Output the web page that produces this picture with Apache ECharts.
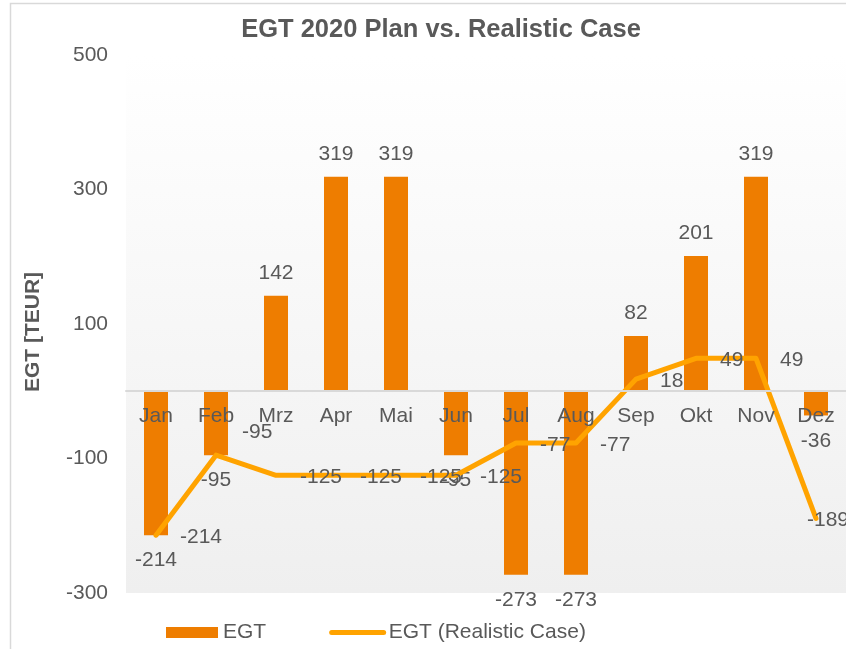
<!DOCTYPE html>
<html>
<head>
<meta charset="utf-8">
<script src="https://cdn.jsdelivr.net/npm/echarts@6/dist/echarts.min.js"></script>
<style>
  html, body { margin: 0; padding: 0; background: #fff; }
  #chart { width: 846px; height: 649px; }
</style>
</head>
<body>
<div id="chart"></div>
<script>
const months = ["Jan", "Feb", "Mrz", "Apr", "Mai", "Jun", "Jul", "Aug", "Sep", "Okt", "Nov", "Dez"];
const egtPlan = [-214, -95, 142, 319, 319, -95, -273, -273, 82, 201, 319, -36];
const egtRealistic = [-214, -95, -125, -125, -125, -125, -77, -77, 18, 49, 49, -189];
const yTicks = { min: -300, max: 500, interval: 200 };

const textColor = "#595959";
const font = "Liberation Sans, Arial, sans-serif";
const fs = 21;

let chart = echarts.init(document.getElementById("chart"));

// bar labels: above positive bars, below negative ones
const barData = egtPlan.map((v) => ({
  value: v,
  label: v >= 0 ? { position: "top", distance: 12 } : { position: "bottom", distance: 15 },
}));

// line labels sit to the right; Feb is nudged up and Dez pulled back in, like Excel did
const lineData = egtRealistic.map((v, i) => {
  if (i === 1) {
    return { value: v, label: { offset: [2, -23] } };
  }
  if (i === months.length - 1) {
    return { value: v, label: { offset: [-33, 2] } };
  }
  return v;
});

let option = {
  animation: false,
  backgroundColor: "#fff",
  textStyle: { fontFamily: font },
  title: {
    text: "EGT 2020 Plan vs. Realistic Case",
    left: 436,
    top: 12,
    textAlign: "center",
    textStyle: { fontSize: 25.5, fontWeight: "bold", color: textColor, fontFamily: font },
  },
  graphic: [
    {
      type: "rect",
      shape: { x: 10.5, y: 3.5, width: 900, height: 700 },
      style: { fill: "none", stroke: "#d9d9d9", lineWidth: 1.5 },
      z: -1,
    },
  ],
  legend: {
    left: 161,
    top: 617,
    itemWidth: 52,
    itemHeight: 11,
    itemGap: 63,
    textStyle: { fontSize: fs, color: textColor, fontFamily: font },
    data: [
      { name: "EGT", icon: "rect" },
      {
        name: "EGT (Realistic Case)",
        itemStyle: { opacity: 0 },
        lineStyle: { width: 5, cap: "round" },
      },
    ],
  },
  grid: {
    left: 126,
    right: 0,
    top: 55,
    bottom: 56,
    show: true,
    borderWidth: 0,
    backgroundColor: new echarts.graphic.LinearGradient(0, 0, 0, 1, [
      { offset: 0, color: "#ffffff" },
      { offset: 1, color: "#efefef" },
    ]),
  },
  xAxis: {
    type: "category",
    data: months,
    z: 5,
    // axis sits on the zero line, labels just under it
    offset: -202,
    axisLine: { onZero: false, lineStyle: { color: "#d9d9d9", width: 2 } },
    axisTick: { show: false },
    axisLabel: { fontSize: fs, color: textColor, margin: 15, fontFamily: font },
  },
  yAxis: {
    type: "value",
    min: yTicks.min,
    max: yTicks.max,
    interval: yTicks.interval,
    name: "EGT [TEUR]",
    nameLocation: "middle",
    nameGap: 82,
    nameTextStyle: {
      fontSize: 21,
      fontWeight: "bold",
      color: textColor,
      fontFamily: font,
      padding: [0, 16, 0, 0],
    },
    axisLine: { show: false },
    axisTick: { show: false },
    splitLine: { show: false },
    axisLabel: { fontSize: fs, color: textColor, margin: 18, fontFamily: font },
  },
  series: [
    {
      name: "EGT",
      type: "bar",
      barWidth: 24,
      itemStyle: { color: "#EE7D00" },
      label: {
        show: true,
        fontSize: fs,
        color: textColor,
        fontFamily: font,
      },
      data: barData,
    },
    {
      name: "EGT (Realistic Case)",
      type: "line",
      showSymbol: true,
      symbol: "circle",
      symbolSize: 0,
      z: 4,
      lineStyle: { color: "#FFA300", width: 5, cap: "round", join: "round" },
      itemStyle: { color: "#FFA300" },
      label: {
        show: true,
        position: "right",
        distance: 24,
        offset: [0, 2],
        fontSize: fs,
        color: textColor,
        fontFamily: font,
      },
      data: lineData,
    },
  ],
};

chart.setOption(option);
</script>
</body>
</html>
